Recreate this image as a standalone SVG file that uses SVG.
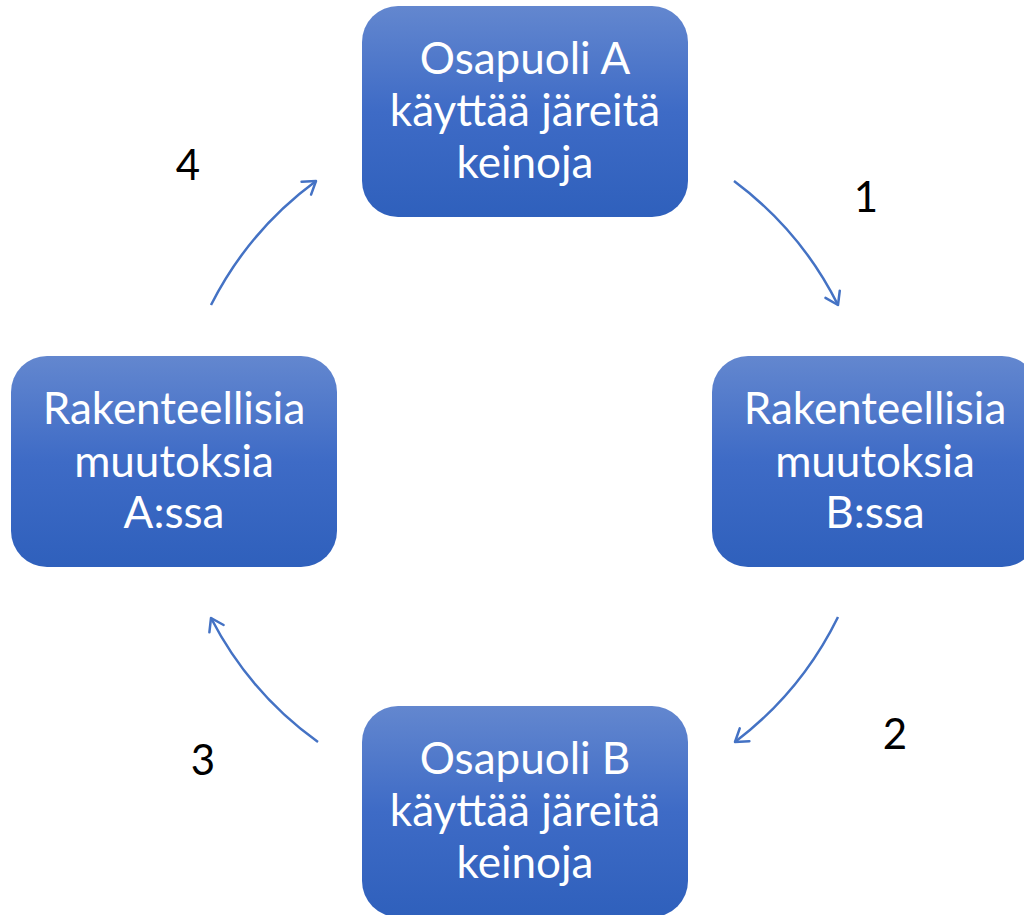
<svg xmlns="http://www.w3.org/2000/svg" width="1024" height="915" viewBox="0 0 1024 915">
<defs>
<linearGradient id="g" x1="0" y1="0" x2="0" y2="1">
<stop offset="0" stop-color="#6387CF"/>
<stop offset="0.5" stop-color="#3E6BC6"/>
<stop offset="1" stop-color="#2F60BC"/>
</linearGradient>
<marker id="ah" markerUnits="userSpaceOnUse" viewBox="-16 -10 20 20" refX="0" refY="0" markerWidth="20" markerHeight="20" orient="auto">
<path d="M-12,-8 L0,0 L-12,8" fill="none" stroke="#4472C4" stroke-width="2.5" stroke-linecap="round" stroke-linejoin="round"/>
</marker>
<style>
.box{fill:url(#g);}
.t{font-family:Lato,"Liberation Sans",sans-serif;font-size:44px;fill:#ffffff;text-anchor:middle;}
.n{font-family:Lato,"Liberation Sans",sans-serif;font-size:42px;fill:#000000;text-anchor:middle;}
.c{fill:none;stroke:#4472C4;stroke-width:2.5;marker-end:url(#ah);}
</style>
</defs>
<rect width="1024" height="915" fill="#ffffff"/>
<g id="connectors">
<path class="c" d="M734,181 A350,350 0 0 1 838,305"/>
<path class="c" d="M838,617 A350,350 0 0 1 735,742"/>
<path class="c" d="M318,742 A350,350 0 0 1 211,618"/>
<path class="c" d="M211,305 A350,350 0 0 1 316,181"/>
</g>
<g id="nodeA">
<rect class="box" x="362" y="6" width="326" height="211" rx="36"/>
<text class="t" x="525" y="74">Osapuoli A</text>
<text class="t" x="525" y="126">käyttää järeitä</text>
<text class="t" x="525" y="178">keinoja</text>
</g>
<g id="nodeRB">
<rect class="box" x="712" y="356" width="326" height="211" rx="36"/>
<text class="t" x="875" y="424">Rakenteellisia</text>
<text class="t" x="875" y="477">muutoksia</text>
<text class="t" x="875" y="528">B:ssa</text>
</g>
<g id="nodeB">
<rect class="box" x="362" y="706" width="326" height="211" rx="36"/>
<text class="t" x="525" y="774">Osapuoli B</text>
<text class="t" x="525" y="826">käyttää järeitä</text>
<text class="t" x="525" y="878">keinoja</text>
</g>
<g id="nodeRA">
<rect class="box" x="11" y="356" width="326" height="211" rx="36"/>
<text class="t" x="174" y="424">Rakenteellisia</text>
<text class="t" x="174" y="477">muutoksia</text>
<text class="t" x="174" y="528">A:ssa</text>
</g>
<g id="labels">
<text class="n" x="866" y="212">1</text>
<text class="n" x="895" y="749">2</text>
<text class="n" x="203" y="775">3</text>
<text class="n" x="188" y="180">4</text>
</g>
</svg>
